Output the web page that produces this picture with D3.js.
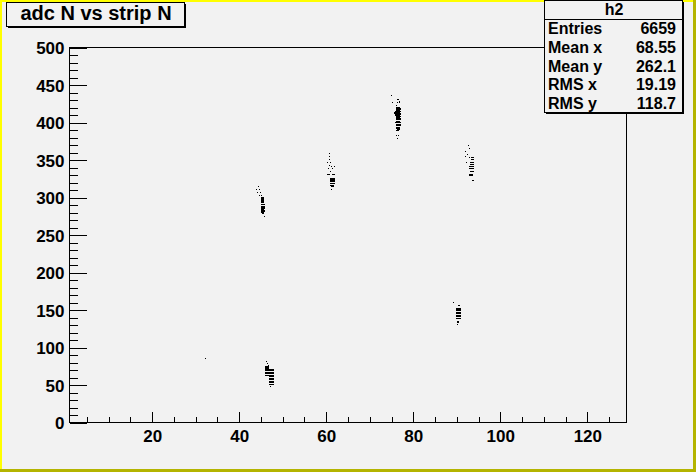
<!DOCTYPE html>
<html>
<head>
<meta charset="utf-8">
<script src="https://cdn.jsdelivr.net/npm/d3@7"></script>
<style>
  body { margin: 0; background: #f2f2f2; }
  svg text { font-family: "Liberation Sans", Arial, sans-serif; font-weight: bold; fill: #000; }
</style>
</head>
<body>
<div id="chart"></div>
<script>
// axis ranges and tick labels
const xDomain = [1, 129];
const yDomain = [0, 500];
const xTickLabels = [20, 40, 60, 80, 100, 120];
const yTickLabels = [0, 50, 100, 150, 200, 250, 300, 350, 400, 450, 500];

// stats box
const statLabels = ['Entries', 'Mean x', 'Mean y', 'RMS x', 'RMS y'];
const statValues = ['6659', '68.55', '262.1', '19.19', '118.7'];

// hits: [strip from, strip to, adc]
const hits32 = [[32.1, 32.1, 86]];
const hits45 = [
  [44.3, 44.3, 315], [43.8, 43.8, 312], [44.5, 44.5, 311], [44.1, 44.1, 308], [44.8, 44.8, 307],
  [44.5, 44.5, 304], [45.0, 45.0, 303],
  [45.0, 45.6, 301], [45.0, 45.7, 300], [44.9, 45.6, 298], [45.0, 45.7, 297], [45.0, 45.6, 295],
  [45.0, 45.7, 294], [45.1, 45.7, 292], [45.0, 45.9, 291], [45.0, 45.9, 289], [45.0, 46.0, 288],
  [45.0, 45.9, 286], [45.0, 45.8, 285], [45.1, 45.9, 283], [45.0, 45.9, 282], [45.0, 45.6, 280],
  [45.2, 45.8, 279], [45.7, 45.7, 275]
];
const hits47 = [
  [46.1, 46.1, 82], [46.4, 46.4, 80], [46.6, 46.6, 77],
  [45.9, 46.8, 75], [45.9, 46.8, 74], [45.9, 46.8, 72],
  [45.9, 47.9, 71], [45.9, 47.9, 70], [45.9, 47.9, 68], [45.9, 47.9, 67], [45.9, 47.9, 66], [45.9, 47.9, 64],
  [46.8, 47.9, 63], [46.8, 47.9, 62], [46.8, 47.9, 60], [46.8, 47.9, 59], [46.8, 47.9, 58],
  [46.8, 47.9, 56], [46.8, 47.9, 55], [46.8, 47.9, 54], [46.8, 47.9, 52], [46.8, 47.9, 51],
  [47.1, 47.1, 49]
];
const hits61 = [
  [60.6, 60.6, 360], [60.6, 60.6, 355], [60.6, 60.6, 352], [60.2, 60.2, 347], [60.9, 60.9, 347],
  [60.6, 60.6, 344], [61.1, 61.1, 342], [61.8, 61.8, 342], [60.4, 60.4, 339], [61.3, 61.3, 339],
  [60.9, 60.9, 336], [60.2, 60.9, 331], [61.3, 62.0, 331],
  [60.9, 62.0, 326], [60.9, 62.0, 325], [60.9, 62.0, 323], [60.9, 61.9, 322], [60.9, 62.0, 320],
  [61.0, 62.0, 319], [60.9, 61.8, 317], [61.1, 61.8, 316], [61.1, 61.1, 311]
];
const hits76 = [
  [74.9, 74.9, 437], [76.5, 76.5, 432], [76.2, 76.2, 431], [76.7, 76.7, 429], [75.1, 75.1, 427],
  [76.2, 76.2, 427], [76.7, 76.7, 427], [76.0, 76.0, 424],
  [76.0, 77.0, 421], [76.1, 77.1, 420], [76.0, 77.2, 418], [76.0, 77.0, 417], [75.9, 77.1, 416],
  [75.6, 77.0, 414], [75.6, 77.1, 413], [75.7, 77.2, 412], [75.8, 77.0, 410], [76.0, 77.1, 409],
  [76.0, 77.0, 408], [76.0, 77.2, 406], [76.1, 77.0, 405], [76.0, 77.1, 404], [76.0, 77.0, 402],
  [75.9, 77.1, 401], [76.0, 77.0, 400], [76.1, 77.1, 398], [76.0, 77.0, 397], [76.0, 77.2, 396],
  [76.0, 76.9, 394], [76.1, 77.0, 393], [76.2, 77.0, 392], [76.0, 76.8, 390],
  [76.0, 76.0, 383], [76.5, 76.5, 383], [76.2, 76.2, 380]
];
const hits90 = [
  [89.1, 89.1, 160], [90.3, 90.7, 157], [89.8, 91.0, 153], [89.8, 91.0, 151], [89.8, 91.0, 150],
  [89.8, 91.0, 147], [89.8, 91.0, 146], [89.8, 91.0, 144], [89.8, 91.0, 143], [89.8, 91.0, 142],
  [89.8, 91.0, 139], [90.0, 90.5, 136], [90.0, 90.5, 134], [90.0, 90.0, 131]
];
const hits93 = [
  [92.6, 92.6, 370], [92.8, 92.8, 366], [91.9, 91.9, 362], [92.4, 92.4, 358], [91.9, 91.9, 355],
  [92.8, 92.8, 354], [92.1, 92.1, 348],
  [93.3, 94.0, 354], [93.3, 94.0, 352], [93.0, 94.0, 347], [93.0, 94.0, 345], [92.8, 94.0, 342],
  [92.8, 94.0, 340], [92.8, 94.0, 339], [93.0, 94.0, 335], [92.8, 93.7, 331], [92.8, 93.7, 330],
  [93.5, 94.0, 324]
];

const width = 696;
const height = 472;
const frame = { left: 69.5, right: 626.5, top: 47.5, bottom: 422.5 };

const svg = d3.select('#chart')
  .append('svg')
  .attr('width', width)
  .attr('height', height);

// canvas background + border
svg.append('rect').attr('width', width).attr('height', height).attr('fill', '#f2f2f2');
svg.append('rect').attr('x', 0).attr('y', 0).attr('width', width).attr('height', 2).attr('fill', '#ffff00');
svg.append('rect').attr('x', 0).attr('y', 0).attr('width', 2).attr('height', height).attr('fill', '#ffff00');
svg.append('rect').attr('x', 0).attr('y', height - 3).attr('width', width).attr('height', 3).attr('fill', '#b4b400');
svg.append('rect').attr('x', width - 3).attr('y', 0).attr('width', 3).attr('height', height).attr('fill', '#b4b400');

const x = d3.scaleLinear().domain(xDomain).range([frame.left, frame.right]);
const y = d3.scaleLinear().domain(yDomain).range([frame.bottom, frame.top]);

// frame
svg.append('rect')
  .attr('x', frame.left)
  .attr('y', frame.top)
  .attr('width', frame.right - frame.left)
  .attr('height', frame.bottom - frame.top)
  .attr('fill', 'none')
  .attr('stroke', '#000')
  .attr('stroke-width', 1);

// y axis, ticks point inside the frame
const yMajorLen = 17;
const xMajorLen = 11;
svg.append('g')
  .attr('transform', `translate(${frame.left},0)`)
  .call(d3.axisLeft(y).tickValues(d3.range(0, 501, 10)).tickSize(-yMajorLen / 2).tickFormat(''))
  .call(g => g.select('.domain').remove());
svg.append('g')
  .attr('transform', `translate(${frame.left},0)`)
  .call(d3.axisLeft(y).tickValues(yTickLabels).tickSize(-yMajorLen).tickPadding(5).tickFormat(d3.format('d')))
  .call(g => g.select('.domain').remove())
  .call(g => g.selectAll('text').style('font-size', '17px').attr('dy', '0.36em'));

// x axis
svg.append('g')
  .attr('transform', `translate(0,${frame.bottom})`)
  .call(d3.axisBottom(x).tickValues(d3.range(5, 129, 5)).tickSize(-xMajorLen / 2).tickFormat(''))
  .call(g => g.select('.domain').remove());
svg.append('g')
  .attr('transform', `translate(0,${frame.bottom})`)
  .call(d3.axisBottom(x).tickValues(xTickLabels).tickSize(-xMajorLen).tickPadding(7).tickFormat(d3.format('d')))
  .call(g => g.select('.domain').remove())
  .call(g => g.selectAll('text').style('font-size', '17px'));

svg.selectAll('.tick line').attr('stroke', '#000').attr('shape-rendering', 'crispEdges');

// hits
const allHits = [...hits32, ...hits45, ...hits47, ...hits61, ...hits76, ...hits90, ...hits93];
svg.append('g')
  .selectAll('rect')
  .data(allHits)
  .enter()
  .append('rect')
  .attr('x', d => Math.round(x(d[0])))
  .attr('y', d => Math.round(y(d[2])))
  .attr('width', d => Math.max(1, Math.round(x(d[1])) - Math.round(x(d[0]))))
  .attr('height', 1)
  .attr('fill', '#000')
  .attr('shape-rendering', 'crispEdges');

// pave with shadow (ROOT style)
const pave = (x0, y0, w, h) => {
  svg.append('rect').attr('x', x0 + 2).attr('y', y0 + 2).attr('width', w).attr('height', h).attr('fill', '#000');
  svg.append('rect')
    .attr('x', x0 + 0.5).attr('y', y0 + 0.5).attr('width', w).attr('height', h)
    .attr('fill', '#f2f2f2').attr('stroke', '#000').attr('stroke-width', 1);
};

// title
pave(6, 2, 178, 24);
svg.append('text')
  .attr('x', 96)
  .attr('y', 19.5)
  .attr('text-anchor', 'middle')
  .style('font-size', '20px')
  .text('adc N vs strip N');

// stats box
pave(544, 0, 138, 112);
svg.append('line')
  .attr('x1', 544.5).attr('x2', 682.5)
  .attr('y1', 19.5).attr('y2', 19.5)
  .attr('stroke', '#000');
svg.append('text')
  .attr('x', 614)
  .attr('y', 15)
  .attr('text-anchor', 'middle')
  .style('font-size', '16px')
  .text('h2');

const rowY = d3.scalePoint().domain(statLabels).range([34, 109]);
svg.append('g')
  .selectAll('text')
  .data(statLabels)
  .enter()
  .append('text')
  .attr('x', 548)
  .attr('y', d => rowY(d))
  .style('font-size', '16px')
  .text(d => d);
svg.append('g')
  .selectAll('text')
  .data(statValues)
  .enter()
  .append('text')
  .attr('x', 676)
  .attr('y', (d, i) => rowY(statLabels[i]))
  .attr('text-anchor', 'end')
  .style('font-size', '16px')
  .text(d => d);
</script>
</body>
</html>
